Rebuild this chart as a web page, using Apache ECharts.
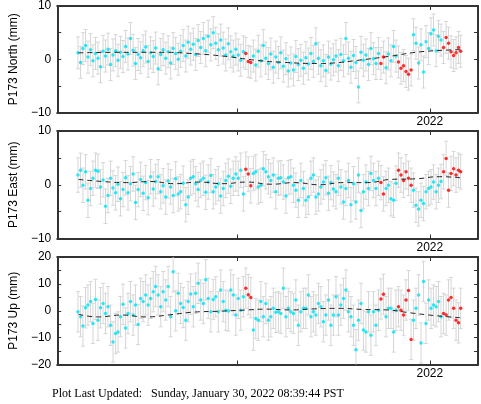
<!DOCTYPE html>
<html><head><meta charset="utf-8">
<script src="https://cdn.jsdelivr.net/npm/echarts@6/dist/echarts.min.js"></script>
<style>html,body{margin:0;padding:0;background:#fff}#c{width:481px;height:404px}</style>
</head><body><div id="c"></div>
<script>
// Observation epochs (decimal years)
const epochs = [
 2018.345,2018.372,2018.397,2018.424,2018.449,2018.476,2018.501,2018.527,2018.553,2018.579,2018.606,2018.631,2018.657,2018.684,2018.709,2018.736,2018.761,2018.787,2018.813,2018.840,2018.865,2018.891,2018.918,2018.943,2018.970,
 2018.996,2019.022,2019.048,2019.074,2019.100,2019.127,2019.152,2019.178,2019.205,2019.230,2019.257,2019.282,2019.308,2019.334,2019.360,2019.387,2019.412,2019.438,2019.465,2019.490,2019.516,2019.543,2019.568,2019.594,2019.620,2019.647,2019.672,2019.698,2019.725,2019.750,2019.776,2019.803,2019.828,2019.854,2019.880,2019.907,2019.932,2019.958,2019.985,
 2020.010,2020.036,2020.063,2020.088,2020.114,2020.140,2020.167,2020.192,2020.218,2020.245,2020.270,2020.296,2020.323,2020.348,2020.374,2020.400,2020.427,2020.452,2020.478,2020.505,2020.530,2020.556,2020.583,2020.608,2020.634,2020.660,2020.687,2020.712,2020.738,2020.765,2020.790,2020.816,2020.843,2020.868,2020.894,2020.920,2020.947,2020.972,2020.998,
 2021.025,2021.050,2021.076,2021.103,2021.128,2021.154,2021.180,2021.207,2021.232,2021.258,2021.285,2021.310,2021.336,2021.363,2021.388,2021.414,2021.440,2021.467,2021.492,2021.518,2021.545,2021.570,2021.596,2021.623,2021.648,2021.674,2021.700,2021.727,2021.752,2021.778,2021.805,2021.830,2021.856,2021.883,2021.908,2021.934,2021.960,2021.987,
 2022.012,2022.038,2022.065,2022.090,2022.116,2022.142,2022.169,2022.194,2022.220,2022.247,2022.272,2022.298,2022.320
];
// Epochs drawn in red (rapid solutions)
const redEpochs = [2020.088,2020.114,2020.140,2021.492,2021.518,2021.674,2021.700,2021.727,2021.752,2021.778,2021.805,
 2022.142,2022.169,2022.194,2022.220,2022.247,2022.272,2022.298,2022.320];

const northValues = [
 1.2,-0.6,2.0,2.6,0.4,1.8,-0.3,1.1,0.2,-1.4,1.5,0.6,1.9,-1.0,0.8,1.6,-0.2,1.3,0.5,2.4,1.0,3.9,1.7,-0.8,0.9,
 0.3,1.6,2.3,-0.4,1.2,0.5,2.1,-1.8,0.9,1.8,0.2,1.4,-0.7,2.0,1.1,0.0,1.5,2.6,0.6,3.2,1.9,2.8,0.9,3.5,2.2,3.9,1.6,4.3,2.7,5.0,3.0,1.8,3.6,2.1,0.8,2.9,1.4,0.6,1.9,
 0.8,-0.2,1.4,1.1,-0.4,-0.6,0.6,-1.1,1.5,-0.3,2.6,0.2,-0.8,1.0,-1.5,0.4,-0.6,1.2,-1.3,0.1,-2.2,-0.7,-2.0,0.5,-1.0,-0.2,-1.7,0.3,-0.9,1.1,-0.4,2.9,0.2,-1.2,-0.3,-2.1,0.4,-0.9,-0.1,
 0.6,-1.2,0.9,-0.3,3.9,0.2,-1.5,0.7,-0.6,-5.2,1.3,-0.2,0.8,-1.0,2.0,0.1,-0.8,1.1,-0.8,0.4,-1.6,1.0,-0.3,2.4,0.6,-0.5,-1.7,-1.2,-2.3,-2.8,-2.0,4.6,3.0,-0.7,2.7,-2.4,3.3,2.0,
 4.8,5.5,1.6,4.3,3.6,2.2,4.1,3.0,1.4,0.7,1.2,2.2,1.5
];
const eastValues = [
 1.8,2.7,-0.1,2.4,-2.9,-0.7,1.2,2.7,2.5,-0.4,0.9,-4.0,-2.0,1.2,-0.6,-1.5,0.1,-2.6,-0.9,1.3,-1.5,0.2,2.0,-3.3,-0.9,
 1.0,-1.6,0.4,-2.4,1.5,-0.8,0.6,1.5,-1.3,-0.2,-2.3,0.7,-0.4,-2.0,1.1,-1.7,-1.3,0.3,-3.7,-2.3,1.2,1.5,0.2,-0.9,0.8,1.2,-1.4,0.5,1.7,-1.3,-0.4,0.2,-2.1,-0.7,0.8,1.6,-0.3,1.2,2.0,
 1.2,2.7,-1.7,2.9,2.0,-0.2,2.1,2.4,-0.4,-0.1,3.0,2.4,1.5,0.8,1.8,-1.3,1.2,1.3,0.5,-2.1,1.3,1.5,-0.1,-1.0,-2.9,0.8,-0.7,-2.9,-2.3,1.2,1.8,-2.3,-1.7,-0.4,0.5,1.3,-1.6,0.4,-0.8,
 -1.3,1.2,-0.4,-3.2,-0.7,0.8,-3.7,0.2,-3.2,1.8,-4.8,-1.3,0.5,-0.7,2.1,0.8,-0.7,1.2,0.4,-1.7,-0.7,-0.1,-2.6,-2.9,0.3,2.7,1.8,0.8,2.4,1.2,-0.1,-1.0,-3.8,-4.5,-2.9,-3.5,-1.3,-0.7,
 -0.4,0.5,-1.3,-0.1,0.6,2.4,4.9,-1.0,2.1,3.0,1.8,2.7,2.4
];
const upValues = [
 -0.4,-2.2,-5.7,1.1,2.1,3.4,-4.7,4.2,-3.5,1.1,2.7,-1.0,1.5,-5.4,-11.6,-8.5,-7.9,-2.2,2.4,-6.4,-1.0,3.4,-1.6,2.1,-5.1,
 4.6,3.4,5.9,2.1,4.6,7.1,9.0,5.9,1.5,7.1,4.0,9.0,-2.2,14.5,0.0,6.5,2.7,1.2,-3.5,3.4,6.2,1.5,6.5,10.2,4.0,2.7,11.5,4.6,-0.4,4.2,5.2,-0.4,7.7,3.4,0.2,-0.1,7.7,5.9,-1.6,
 4.6,0.2,5.2,8.4,6.0,4.9,-7.2,-2.9,-3.5,3.4,-2.2,2.7,-3.5,-2.2,0.9,-0.6,-0.4,-1.0,8.4,-2.2,0.9,-0.4,-1.0,4.0,-5.4,-0.4,0.9,0.9,5.9,-2.2,-0.4,-1.6,2.7,1.5,-4.1,-1.6,4.0,-5.4,-1.6,
 5.2,-1.6,2.1,4.6,7.7,-0.4,-2.2,-5.4,-14.5,-3.5,2.7,-7.2,-7.9,-0.4,-9.1,-0.4,-5.4,0.2,4.4,6.1,-2.2,0.9,0.9,-7.9,0.2,1.5,0.2,-1.6,4.0,7.5,-10.7,-3.5,0.9,5.9,-12.0,10.9,-4.7,4.0,
 0.9,2.1,1.5,3.4,-2.2,-1.0,-1.6,4.0,4.9,0.9,-3.5,-4.5,0.9
];
// One-sigma uncertainties (mm)
const northSigma = 3.0, eastSigma = 3.2, upSigma = 7.5;

// Model (dashed) curves
const northTrendT = [2018.35,2018.75,2019.25,2019.5,2019.85,2020.2,2020.5,2020.85,2021.0,2021.25,2021.6,2021.9,2022.32];
const northTrendV = [1.2,1.3,1.3,1.1,0.6,-0.2,-0.6,-0.8,-0.7,-0.2,0.6,1.4,1.8];
const eastTrendT = [2018.35,2018.6,2018.85,2019.1,2019.35,2019.6,2019.85,2020.1,2020.35,2020.6,2020.85,2021.1,2021.35,2021.6,2021.85,2022.1,2022.32];
const eastTrendV = [1.0,0.6,0.4,0.6,0.2,0.5,0.2,0.5,0.1,0.4,0.0,0.4,0.4,1.0,1.1,1.5,1.3];
const upTrendT = [2018.35,2018.55,2018.8,2019.05,2019.3,2019.55,2019.8,2020.05,2020.3,2020.55,2020.8,2021.05,2021.3,2021.55,2021.8,2022.05,2022.32];
const upTrendV = [-1.3,-2.3,-1.6,-2.3,-1.5,-0.5,-0.2,0.2,0.6,0.3,0.7,0.9,0.5,0.3,-0.8,-1.8,-2.6];

const xTickValues = [2020, 2022];
const xLabelValues = [2022];
const xMin = 2018.13, xMax = 2022.5;
const footerText = 'Plot Last Updated:   Sunday, January 30, 2022 08:39:44 PST';

const panels = [
  {name: 'P173 North (mm)', values: northValues, sigma: northSigma, tT: northTrendT, tV: northTrendV, min: -10, max: 10, top: 5},
  {name: 'P173 East (mm)', values: eastValues, sigma: eastSigma, tT: eastTrendT, tV: eastTrendV, min: -10, max: 10, top: 131},
  {name: 'P173 Up (mm)', values: upValues, sigma: upSigma, tT: upTrendT, tV: upTrendV, min: -20, max: 20, top: 257}
];

const FONT = 'Liberation Sans, Arial, Helvetica, sans-serif';
const AX = '#333';
const redSet = new Set(redEpochs.map(v => v.toFixed(3)));

const grid = [], xAxis = [], yAxis = [], series = [];
panels.forEach((p, i) => {
  grid.push({left: 48, width: 430, top: p.top, height: 107.5, containLabel: false});
  const xb = {
    type: 'value', gridIndex: i, min: xMin, max: xMax, position: 'bottom',
    axisLine: {show: true, onZero: false, lineStyle: {color: AX, width: 2}},
    axisTick: {show: true, inside: true, length: 4, customValues: xTickValues, lineStyle: {color: AX, width: 1}},
    axisLabel: {show: true, customValues: xLabelValues, formatter: v => String(Math.round(v)), fontSize: 12, color: '#000', fontFamily: FONT, margin: 3},
    splitLine: {show: false}
  };
  const xt = {
    type: 'value', gridIndex: i, min: xMin, max: xMax, position: 'top',
    axisLine: {show: true, onZero: false, lineStyle: {color: AX, width: 2}},
    axisTick: {show: true, inside: true, length: 4, customValues: xTickValues, lineStyle: {color: AX, width: 1}},
    axisLabel: {show: false}, splitLine: {show: false}
  };
  xAxis.push(xb, xt);
  const yl = {
    type: 'value', gridIndex: i, min: p.min, max: p.max, interval: 5, position: 'left',
    name: p.name, nameLocation: 'middle', nameGap: 37, nameRotate: 90,
    nameTextStyle: {fontSize: 12, color: '#000', fontFamily: FONT},
    axisLine: {show: true, onZero: false, lineStyle: {color: AX, width: 2}},
    axisTick: {show: true, inside: true, length: 4, lineStyle: {color: AX, width: 1}},
    axisLabel: {formatter: v => (v % 10 === 0 ? String(v).replace('-', '\u2212') : ''), fontSize: 12, color: '#000', fontFamily: FONT, margin: 6},
    splitLine: {show: false}
  };
  const yr = {
    type: 'value', gridIndex: i, min: p.min, max: p.max, interval: 5, position: 'right',
    axisLine: {show: true, onZero: false, lineStyle: {color: AX, width: 2}},
    axisTick: {show: true, inside: true, length: 4, lineStyle: {color: AX, width: 1}},
    axisLabel: {show: false}, splitLine: {show: false}
  };
  yAxis.push(yl, yr);
  const xi = i * 2, yi = i * 2;
  const errData = epochs.map((t, k) => [t, p.values[k] - p.sigma, p.values[k] + p.sigma]);
  const cyan = [], red = [];
  epochs.forEach((t, k) => { (redSet.has(t.toFixed(3)) ? red : cyan).push([t, p.values[k]]); });
  series.push({
    type: 'custom', xAxisIndex: xi, yAxisIndex: yi, clip: true, z: 1, silent: true,
    data: errData, encode: {x: 0, y: [1, 2]},
    renderItem: (params, api) => {
      const t = api.value(0);
      const a = api.coord([t, api.value(2)]), b = api.coord([t, api.value(1)]);
      const cw = 2, st = {stroke: '#d6d6d6', lineWidth: 1};
      return {type: 'group', children: [
        {type: 'line', shape: {x1: a[0], y1: a[1], x2: b[0], y2: b[1]}, style: st},
        {type: 'line', shape: {x1: a[0] - cw, y1: a[1], x2: a[0] + cw, y2: a[1]}, style: st},
        {type: 'line', shape: {x1: b[0] - cw, y1: b[1], x2: b[0] + cw, y2: b[1]}, style: st}
      ]};
    }
  });
  series.push({type: 'scatter', xAxisIndex: xi, yAxisIndex: yi, data: cyan, symbolSize: 3.5, itemStyle: {color: '#00e2f4'}, z: 2, silent: true});
  series.push({type: 'scatter', xAxisIndex: xi, yAxisIndex: yi, data: red, symbolSize: 3.5, itemStyle: {color: '#ff0000'}, z: 3, silent: true});
  series.push({type: 'line', xAxisIndex: xi, yAxisIndex: yi, data: p.tT.map((t, k) => [t, p.tV[k]]), smooth: true, symbol: 'none',
    lineStyle: {color: '#222', width: 1, type: [5, 4]}, z: 4, silent: true});
});

const chart = echarts.init(document.getElementById('c'), null, {renderer: 'canvas'});
chart.setOption({
  animation: false, backgroundColor: '#fff',
  grid, xAxis, yAxis, series,
  graphic: [{type: 'text', left: 52, top: 388, style: {text: footerText, font: '12px "Liberation Serif", "Times New Roman", serif', fill: '#000'}}]
});
</script></body></html>
